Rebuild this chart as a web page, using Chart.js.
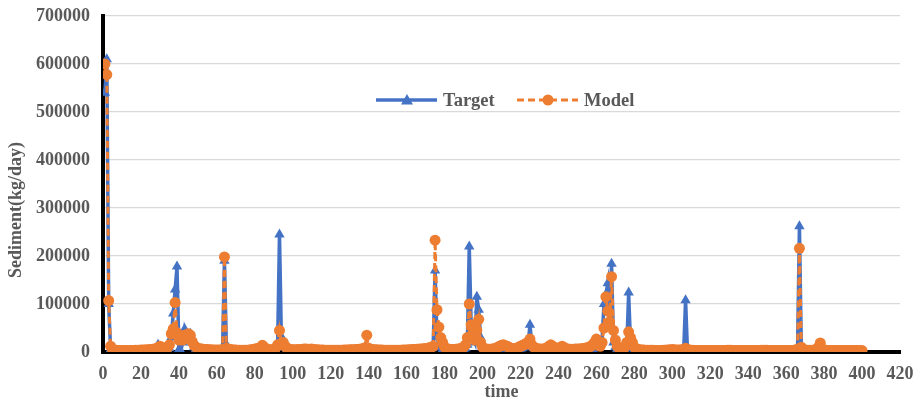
<!DOCTYPE html>
<html>
<head>
<meta charset="utf-8">
<script src="https://cdn.jsdelivr.net/npm/chart.js@4.4.1/dist/chart.umd.min.js"></script>
<style>
  html, body { margin: 0; padding: 0; background: #ffffff; }
  #wrap { width: 918px; height: 401px; position: relative; }
</style>
</head>
<body>
<div id="wrap"><canvas id="c" width="918" height="401"></canvas></div>
<script>
// Daily sediment load (kg/day), days 1..400
const target = [
  540000, 610000, 100000, 5000, 2000, 1500, 1200, 1000, 1000, 900, 900, 800, 800, 800, 900, 1000, 1000, 1200, 1300, 1500,
  1500, 1800, 2000, 2200, 2500, 3000, 4000, 8000, 15000, 6000, 3000, 3000, 3500, 4000, 8000, 30000, 80000, 130000, 178000, 5000,
  2000, 20000, 48000, 35000, 30000, 38000, 20000, 10000, 6000, 4000, 3000, 2500, 2000, 2000, 1800, 1500, 1500, 1200, 1200, 1000,
  1000, 1500, 5000, 190000, 15000, 8000, 3000, 2000, 1500, 1200, 1000, 1000, 1000, 1000, 1000, 1200, 1500, 2000, 2500, 3000,
  4000, 5000, 8000, 13000, 5000, 3000, 2000, 2000, 1500, 1500, 3000, 10000, 245000, 30000, 25000, 15000, 6000, 4000, 3000, 2000,
  2000, 1500, 1500, 1500, 2000, 2500, 3000, 4000, 3000, 2500, 2000, 2000, 1500, 1500, 1500, 1200, 1200, 1000, 1000, 1000,
  1000, 1000, 1000, 1000, 1200, 1200, 1500, 1500, 1500, 2000, 2000, 2000, 2000, 2500, 2500, 3000, 4000, 6000, 8000, 4000,
  3000, 2500, 2000, 2000, 1500, 1500, 1500, 1200, 1200, 1000, 1000, 1000, 1000, 1000, 1000, 1200, 1200, 1500, 1500, 1500,
  2000, 2000, 2500, 2500, 3000, 3000, 3500, 4000, 5000, 5000, 6000, 7000, 8000, 10000, 170000, 30000, 15000, 10000, 6000, 4000,
  3000, 2500, 2000, 2000, 2000, 2500, 3000, 4000, 5000, 6000, 8000, 15000, 220000, 60000, 30000, 20000, 115000, 88000, 30000, 10000,
  6000, 4000, 3000, 3000, 3000, 3500, 4000, 5000, 6000, 7000, 8000, 8000, 7000, 6000, 5000, 4000, 4000, 5000, 6000, 7000,
  8000, 10000, 12000, 15000, 57000, 15000, 8000, 5000, 4000, 3000, 3000, 3000, 3500, 4000, 5000, 6000, 5000, 4000, 3500, 3000,
  4000, 5000, 4000, 3000, 2500, 2000, 2000, 2000, 2000, 2500, 2500, 3000, 3000, 3500, 4000, 4000, 5000, 6000, 8000, 10000,
  12000, 15000, 25000, 100000, 120000, 143000, 60000, 184000, 20000, 10000, 6000, 4000, 3000, 2500, 3000, 8000, 124000, 15000, 8000, 5000,
  3000, 2000, 1500, 1200, 1000, 1000, 800, 800, 700, 700, 600, 600, 600, 600, 600, 600, 600, 700, 700, 800,
  800, 800, 800, 900, 1000, 2000, 108000, 3000, 1500, 1000, 800, 700, 600, 600, 500, 500, 500, 500, 500, 500,
  500, 500, 500, 500, 500, 600, 600, 600, 700, 700, 700, 600, 600, 500, 500, 500, 500, 500, 500, 500,
  500, 500, 500, 500, 600, 600, 700, 800, 800, 700, 600, 600, 500, 500, 500, 500, 500, 500, 500, 500,
  500, 500, 600, 800, 1000, 3000, 262000, 8000, 2000, 1000, 800, 700, 600, 600, 800, 1500, 3000, 6000, 2000, 1000,
  800, 700, 600, 600, 500, 500, 500, 500, 500, 500, 500, 500, 500, 500, 500, 500, 500, 500, 500, 500
];

const model = [
  600000, 578000, 107000, 12000, 5000, 4000, 3500, 3000, 3000, 3000, 3000, 3000, 3000, 3000, 3200, 3200, 3500, 3500, 3800, 4000,
  4000, 4200, 4500, 4800, 5000, 5500, 6000, 7000, 9000, 12000, 10000, 8000, 7000, 9000, 15000, 38000, 48000, 103000, 40000, 25000,
  30000, 25000, 35000, 30000, 38000, 35000, 22000, 14000, 10000, 8000, 7000, 6000, 5500, 5000, 5000, 4500, 4500, 4000, 4000, 4000,
  4000, 4000, 5000, 198000, 8000, 6000, 5000, 4500, 4000, 4000, 3800, 3800, 3500, 3500, 3500, 3500, 4000, 4500, 5000, 6000,
  7000, 8000, 10000, 14000, 10000, 6000, 5000, 4500, 4500, 5000, 8000, 15000, 45000, 18000, 20000, 12000, 8000, 6000, 5000, 4500,
  4500, 4500, 5000, 5000, 5500, 6000, 6000, 5500, 5500, 6000, 5000, 4500, 4500, 4000, 4000, 4000, 3800, 3800, 3500, 3500,
  3500, 3500, 3500, 3500, 3800, 3800, 4000, 4000, 4000, 4500, 4500, 4500, 5000, 5000, 5500, 6000, 7000, 9000, 35000, 8000,
  6000, 5000, 4500, 4500, 4000, 4000, 4000, 3800, 3800, 3500, 3500, 3500, 3500, 3500, 3500, 3800, 3800, 4000, 4000, 4000,
  4500, 4500, 5000, 5000, 5500, 5500, 6000, 6500, 7000, 7500, 8000, 9000, 10000, 12000, 233000, 88000, 52000, 30000, 20000, 10000,
  7000, 6000, 5000, 5000, 5000, 5500, 6000, 7000, 8000, 10000, 15000, 30000, 100000, 57000, 40000, 25000, 45000, 68000, 20000, 10000,
  7000, 6000, 5500, 5500, 6000, 7000, 8000, 10000, 12000, 14000, 15000, 13000, 12000, 10000, 8000, 7000, 7000, 8000, 10000, 12000,
  14000, 15000, 18000, 20000, 27000, 15000, 10000, 8000, 7000, 6000, 6000, 6000, 7000, 9000, 12000, 15000, 12000, 9000, 8000, 7000,
  10000, 12000, 9000, 7000, 6000, 5500, 5500, 5500, 6000, 6000, 6500, 7000, 7500, 8000, 9000, 10000, 12000, 15000, 20000, 27000,
  15000, 12000, 20000, 50000, 115000, 85000, 63000, 157000, 45000, 25000, 12000, 8000, 6000, 5500, 10000, 20000, 42000, 30000, 20000, 10000,
  7000, 5000, 4500, 4000, 4000, 3500, 3500, 3500, 3500, 3500, 3000, 3000, 3000, 3000, 3500, 3500, 4000, 4000, 4500, 5000,
  4500, 4000, 4000, 4000, 4500, 5000, 8000, 5000, 4000, 3500, 3500, 3000, 3000, 3000, 3000, 3000, 3000, 3000, 3000, 3000,
  3000, 3000, 3000, 3000, 3000, 3200, 3200, 3200, 3500, 3500, 3500, 3200, 3200, 3000, 3000, 3000, 3000, 3000, 3000, 3000,
  3000, 3000, 3000, 3000, 3200, 3200, 3500, 3800, 3800, 3500, 3200, 3200, 3000, 3000, 3000, 3000, 3000, 3000, 3000, 3000,
  3000, 3000, 3000, 3500, 4000, 6000, 216000, 10000, 5000, 4000, 3500, 3500, 3500, 3500, 4000, 6000, 10000, 19000, 6000, 4000,
  3500, 3000, 3000, 3000, 3000, 3000, 3000, 3000, 3000, 3000, 3000, 3000, 3000, 3000, 3000, 3000, 3000, 3000, 3000, 3000
];

const seriesNames = ['Target', 'Model'];
const xTitle = 'time';
const yTitle = 'Sediment(kg/day)';

const BLUE = '#4472C4';
const ORANGE = '#ED7D31';
const TEXT = '#595959';
const FONT = '"Liberation Serif", "Times New Roman", serif';

const toPoints = arr => arr.map((v, i) => ({ x: i + 1, y: v }));

// Rotated y-axis title, placed a little below the plot's vertical centre
const yAxisTitle = {
  id: 'yAxisTitle',
  afterDraw(chart) {
    const ctx = chart.ctx;
    ctx.save();
    ctx.translate(16, 210);
    ctx.rotate(-Math.PI / 2);
    ctx.font = 'bold 18px ' + FONT;
    ctx.fillStyle = TEXT;
    ctx.textAlign = 'center';
    ctx.textBaseline = 'middle';
    ctx.fillText(yTitle, 0, 0);
    ctx.restore();
  }
};

// Legend drawn inside the plot area, centred near the top
const innerLegend = {
  id: 'innerLegend',
  afterDraw(chart) {
    const ctx = chart.ctx;
    const y = 100;
    ctx.save();
    ctx.font = 'bold 18.5px ' + FONT;
    ctx.textBaseline = 'middle';

    // Target entry
    ctx.strokeStyle = BLUE;
    ctx.lineWidth = 3.5;
    ctx.setLineDash([]);
    ctx.beginPath(); ctx.moveTo(376, y); ctx.lineTo(437, y); ctx.stroke();
    ctx.fillStyle = BLUE;
    ctx.beginPath();
    ctx.moveTo(407, y - 6); ctx.lineTo(413, y + 4.5); ctx.lineTo(401, y + 4.5); ctx.closePath();
    ctx.fill();
    ctx.fillStyle = TEXT;
    ctx.fillText(seriesNames[0], 443, y + 1);

    // Model entry
    ctx.strokeStyle = ORANGE;
    ctx.lineWidth = 3;
    ctx.setLineDash([7, 4]);
    ctx.beginPath(); ctx.moveTo(517, y); ctx.lineTo(578, y); ctx.stroke();
    ctx.setLineDash([]);
    ctx.fillStyle = ORANGE;
    ctx.beginPath(); ctx.arc(548, y, 5.5, 0, Math.PI * 2); ctx.fill();
    ctx.fillStyle = TEXT;
    ctx.fillText(seriesNames[1], 584, y + 1);
    ctx.restore();
  }
};

// x-axis title drawn just above the bottom edge
const xAxisTitle = {
  id: 'xAxisTitle',
  afterDraw(chart) {
    const ctx = chart.ctx;
    const area = chart.chartArea;
    ctx.save();
    ctx.font = 'bold 18px ' + FONT;
    ctx.fillStyle = TEXT;
    ctx.textAlign = 'center';
    ctx.textBaseline = 'middle';
    ctx.fillText(xTitle, (area.left + area.right) / 2, 392);
    ctx.restore();
  }
};

new Chart(document.getElementById('c'), {
  type: 'line',
  data: {
    datasets: [
      {
        label: seriesNames[1],
        data: toPoints(model),
        borderColor: ORANGE,
        backgroundColor: ORANGE,
        borderWidth: 3,
        borderDash: [7, 4],
        pointStyle: 'circle',
        pointRadius: 5.5,
        pointBorderWidth: 0,
        order: 0,
        tension: 0
      },
      {
        label: seriesNames[0],
        data: toPoints(target),
        borderColor: BLUE,
        backgroundColor: BLUE,
        borderWidth: 3.5,
        pointStyle: 'triangle',
        pointRadius: 6,
        pointBorderWidth: 0,
        order: 1,
        tension: 0
      }
    ]
  },
  options: {
    responsive: false,
    animation: false,
    layout: { padding: { top: 16, right: 18, left: 0, bottom: 0 } },
    plugins: { legend: { display: false }, tooltip: { enabled: false } },
    scales: {
      x: {
        type: 'linear',
        min: 0,
        max: 420,
        ticks: { stepSize: 20, color: TEXT, font: { family: FONT, size: 18, weight: 'bold' }, padding: 12, maxRotation: 0 },
        grid: { display: false, drawTicks: false },
        border: { display: true, color: '#000000', width: 4 },
        title: { display: false },
        afterFit(scale) {
          scale.height = 49;
          scale.paddingLeft = 0;
          scale.paddingRight = 0;
        }
      },
      y: {
        min: 0,
        max: 700000,
        ticks: {
          stepSize: 100000, color: TEXT, font: { family: FONT, size: 18, weight: 'bold' }, padding: 13,
          callback: v => String(v)
        },
        grid: { color: '#d9d9d9', lineWidth: 1.3, drawTicks: false },
        border: { display: true, color: '#000000', width: 4 },
        title: { display: false },
        afterFit(scale) {
          scale.width = 103;
          scale.paddingTop = 0;
          scale.paddingBottom = 0;
        }
      }
    }
  },
  plugins: [innerLegend, yAxisTitle, xAxisTitle]
});
</script>
</body>
</html>
